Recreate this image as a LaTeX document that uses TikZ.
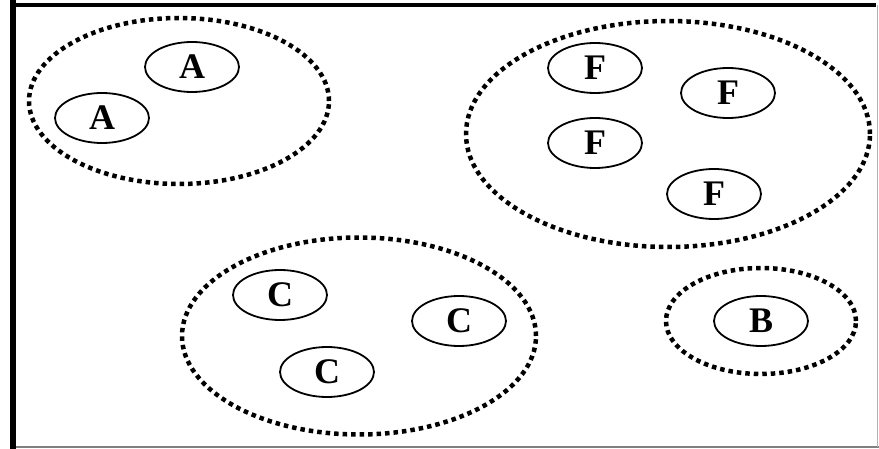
\documentclass[tikz,border=0pt]{standalone}
\usepackage{fontspec}
\setmainfont{Liberation Serif}
\usetikzlibrary{shapes.geometric}
\begin{document}
\begin{tikzpicture}[x=1pt,y=-1pt,
  cluster/.style={draw, ellipse, inner sep=0pt, line width=4.5pt,
                  dash pattern=on 4.5pt off 4pt},
  member/.style={draw, ellipse, inner sep=0pt, line width=1.8pt,
                 minimum width=94pt, minimum height=50pt,
                 font=\fontsize{36}{36}\selectfont\bfseries},
  frameline/.style={line width=#1}]
  % canvas
  \fill[white] (0,0) rectangle (879,449);
  \useasboundingbox (0,0) rectangle (879,449);

  % frame
  \draw[frameline=4pt] (10,5) -- (876,5);
  \draw[frameline=1.5pt, gray] (10,447.2) -- (879,447.2);
  \draw[frameline=0.8pt, gray!60] (877.6,5) -- (877.6,447);
  \draw[frameline=6pt] (13,0) -- (13,449);

  % clusters
  \node[cluster, minimum width=300pt, minimum height=166pt] (gA) at (179,101) {};
  \node[cluster, minimum width=404pt, minimum height=226pt] (gF) at (668,134) {};
  \node[cluster, minimum width=354pt, minimum height=197pt] (gC) at (359,336) {};
  \node[cluster, minimum width=190pt, minimum height=106pt] (gB) at (761,321) {};

  % members
  \node[member] (a1) at (192,67) {A};
  \node[member] (a2) at (102,118) {A};

  \node[member] (f1) at (595,68) {F};
  \node[member] (f2) at (728,93) {F};
  \node[member] (f3) at (595,143) {F};
  \node[member] (f4) at (714,194) {F};

  \node[member] (c1) at (280,295) {C};
  \node[member] (c2) at (459,321) {C};
  \node[member] (c3) at (327,372) {C};

  \node[member] (b1) at (761,321) {B};
\end{tikzpicture}
\end{document}
